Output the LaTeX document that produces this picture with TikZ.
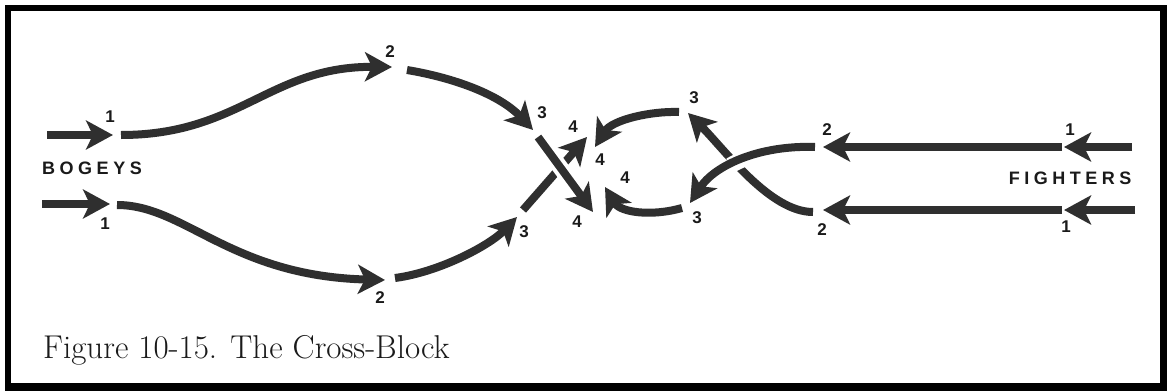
\documentclass[tikz,border=0pt]{standalone}
\usepackage{fontspec}
\setsansfont{Liberation Sans}
\usetikzlibrary{arrows.meta}
\definecolor{ink}{HTML}{2F2F2F}
\definecolor{txt}{HTML}{1A1A1A}
\newcommand\lspc{\kern4.5pt}
\begin{document}
\begin{tikzpicture}[x=1pt,y=-1pt,
  flow/.style={draw=ink, line width=8pt, -{Stealth[length=27pt,width=29pt,inset=7pt]}},
  gapline/.style={draw=white, line width=16pt},
  num/.style={font=\sffamily\bfseries\fontsize{17}{17}\selectfont, text=txt, inner sep=0pt},
  word/.style={font=\sffamily\bfseries\fontsize{18}{18}\selectfont, text=txt, inner sep=0pt}]
\useasboundingbox (0,0) rectangle (1167,391);
\fill[white] (0,0) rectangle (1167,391);
\fill[black] (5,5) rectangle (1167,391);
\fill[white] (11,11) rectangle (1160,383);

% ---- coordinates
\coordinate (ta0) at (47,135);  \coordinate (ta1) at (113,135);
\coordinate (tb0) at (121,135); \coordinate (tb1) at (392,67);
\coordinate (tc0) at (407,70);  \coordinate (tc1) at (533,130);
\coordinate (td0) at (538,137); \coordinate (td1) at (593,212);
\coordinate (ba0) at (42,204);  \coordinate (ba1) at (110,204);
\coordinate (bb0) at (117,205); \coordinate (bb1) at (385,280);
\coordinate (bc0) at (395,278); \coordinate (bc1) at (517,217);
\coordinate (bd0) at (523,210); \coordinate (bd1) at (587,137);
\coordinate (fa0) at (1132,147); \coordinate (fa1) at (1064,147);
\coordinate (fb0) at (1062,147); \coordinate (fb1) at (823,147);
\coordinate (fc0) at (815,147);  \coordinate (fc1) at (690,203);
\coordinate (fd0) at (679,112);  \coordinate (fd1) at (595,147);
\coordinate (ga0) at (1135,210); \coordinate (ga1) at (1064,210);
\coordinate (gb0) at (1062,210); \coordinate (gb1) at (823,210);
\coordinate (gc0) at (813,212);  \coordinate (gc1) at (688,113);
\coordinate (gd0) at (682,208);  \coordinate (gd1) at (605,187);
\coordinate (xb) at (560,167);
\coordinate (xf) at (739,162);

% ---- bogeys
\draw[flow] (ta0) -- (ta1);
\draw[flow] (tb0) .. controls (240,135) and (270,66) .. (tb1);
\draw[flow] (tc0) .. controls (455,78) and (500,95) .. (tc1);
\draw[flow] (ba0) -- (ba1);
\draw[flow] (bb0) .. controls (185,205) and (230,276) .. (bb1);
\draw[flow] (bc0) .. controls (440,272) and (490,245) .. (bc1);
\draw[flow] (bd0) -- (bd1);
\begin{scope}
  \clip (xb) circle (13);
  \draw[gapline] (td0) -- (td1);
\end{scope}
\draw[flow] (td0) -- (td1);

% ---- fighters
\draw[flow] (fa0) -- (fa1);
\draw[flow] (fb0) -- (fb1);
\draw[flow] (ga0) -- (ga1);
\draw[flow] (gb0) -- (gb1);
\draw[flow] (gc0) .. controls (770,212) and (725,150) .. (gc1);
\begin{scope}
  \clip (xf) circle (13);
  \draw[gapline] (fc0) .. controls (760,145) and (715,165) .. (fc1);
\end{scope}
\draw[flow] (fc0) .. controls (760,145) and (715,165) .. (fc1);
\draw[flow] (fd0) .. controls (650,111) and (612,120) .. (fd1);
\draw[flow] (gd0) .. controls (650,217) and (620,212) .. (gd1);

% ---- labels
\node[num] (l1a) at (110,117) {1};
\node[num] (l1b) at (105,224) {1};
\node[word] (bog) at (92,168) {B\lspc O\lspc G\lspc E\lspc Y\lspc S};
\node[num] (l2a) at (390,52) {2};
\node[num] (l2b) at (380,298) {2};
\node[num] (l3a) at (542,113) {3};
\node[num] (l3b) at (524,232) {3};
\node[num] (l4a) at (573,127) {4};
\node[num] (l4b) at (577,222) {4};
\node[num] (l4c) at (600,160) {4};
\node[num] (l4d) at (625,178) {4};
\node[num] (l3c) at (694,98) {3};
\node[num] (l3d) at (697,218) {3};
\node[num] (l2c) at (827,130) {2};
\node[num] (l2d) at (822,230) {2};
\node[num] (l1c) at (1070,130) {1};
\node[num] (l1d) at (1066,227) {1};
\node[word] (fig) at (1070,178) {F\lspc I\lspc G\lspc H\lspc T\lspc E\lspc R\lspc S};

\node[anchor=base west, font=\fontsize{33}{33}\selectfont, text=txt, inner sep=0pt] (cap) at (43,358) {Figure 10-15. The Cross-Block};
\end{tikzpicture}
\end{document}
